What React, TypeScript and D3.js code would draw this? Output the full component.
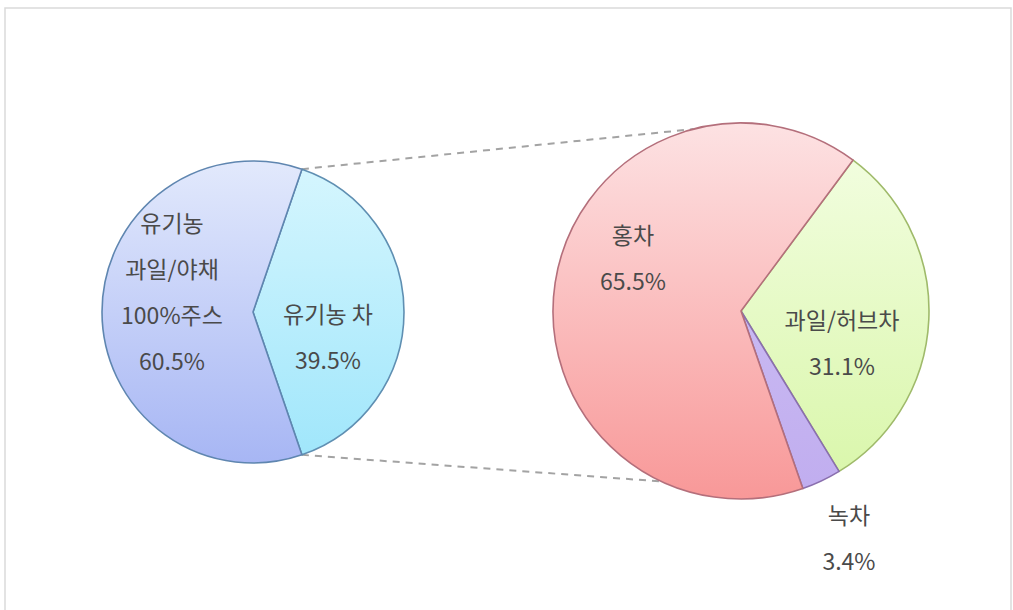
import * as d3 from "d3";

type Slice = { name: string[]; value: number; top: string; bottom: string; stroke: string };

// first pie: organic juice vs organic tea
const mainNames = [["유기농 차"], ["유기농", "과일/야채", "100%주스"]];
const mainValues = [39.5, 60.5];
// second pie: breakdown of organic tea
const teaNames = [["과일/허브차"], ["녹차"], ["홍차"]];
const teaValues = [31.1, 3.4, 65.5];

const W = 1013;
const H = 610;
const FONT = "'Noto Sans CJK KR', 'Noto Sans', sans-serif";
const TEXT = "#4a4a4a";

const mainSlices: Slice[] = [
  { name: mainNames[0], value: mainValues[0], top: "#d6f6fe", bottom: "#9fe6fb", stroke: "#5f8fb2" },
  { name: mainNames[1], value: mainValues[1], top: "#e2e9fc", bottom: "#a7b6f4", stroke: "#5f86b0" },
];
const teaSlices: Slice[] = [
  { name: teaNames[0], value: teaValues[0], top: "#f4fee4", bottom: "#d8f6a8", stroke: "#9fba6a" },
  { name: teaNames[1], value: teaValues[1], top: "#d2c4f5", bottom: "#c0adef", stroke: "#8a6fae" },
  { name: teaNames[2], value: teaValues[2], top: "#fde2e3", bottom: "#f89898", stroke: "#b46f7b" },
];

const deg = (d: number) => (d * Math.PI) / 180;

const left = { cx: 253, cy: 312, r: 151 };
const right = { cx: 741, cy: 311, r: 188 };

// label anchors relative to each pie centre
const mainLabelPos = [
  { dx: 75, dy: 24 },
  { dx: -81, dy: -21 },
];
const teaLabelPos = [
  { dx: 101, dy: 31 },
  { dx: 108, dy: 226 },
  { dx: -108, dy: -54 },
];
const LINE = 46;

function Pie({
  slices,
  cx,
  cy,
  r,
  start,
  labelPos,
  id,
}: {
  slices: Slice[];
  cx: number;
  cy: number;
  r: number;
  start: number;
  labelPos: { dx: number; dy: number }[];
  id: string;
}) {
  const pie = d3
    .pie<Slice>()
    .sort(null)
    .value((d) => d.value)
    .startAngle(start)
    .endAngle(start + Math.PI * 2);
  const arc = d3.arc<d3.PieArcDatum<Slice>>().innerRadius(0).outerRadius(r);
  const arcs = pie(slices);
  return (
    <g transform={`translate(${cx},${cy})`}>
      <defs>
        {slices.map((s, i) => (
          <linearGradient
            key={i}
            id={`${id}-g${i}`}
            gradientUnits="userSpaceOnUse"
            x1={0}
            y1={-r}
            x2={0}
            y2={r}
          >
            <stop offset="0%" stopColor={s.top} />
            <stop offset="100%" stopColor={s.bottom} />
          </linearGradient>
        ))}
      </defs>
      {arcs.map((a, i) => (
        <path
          key={i}
          d={arc(a) ?? ""}
          fill={`url(#${id}-g${i})`}
          stroke={a.data.stroke}
          strokeWidth={1.6}
          strokeLinejoin="round"
        />
      ))}
      {arcs.map((a, i) => {
        const lines = [...a.data.name, `${a.data.value.toFixed(1)}%`];
        const p = labelPos[i];
        const y0 = p.dy - ((lines.length - 1) * LINE) / 2;
        return (
          <text
            key={`t${i}`}
            textAnchor="middle"
            fontFamily={FONT}
            fontSize={23}
            fill={TEXT}
          >
            {lines.map((l, j) => (
              <tspan key={j} x={p.dx} y={y0 + j * LINE} dominantBaseline="central">
                {l}
              </tspan>
            ))}
          </text>
        );
      })}
    </g>
  );
}

export default function App() {
  const total = d3.sum(mainValues);
  // tea slice sits centred on the right side of the first pie
  const teaSpan = (mainValues[0] / total) * Math.PI * 2;
  const mainStart = Math.PI / 2 - teaSpan / 2;
  const teaStart = deg(36.6);

  const polar = (c: { cx: number; cy: number; r: number }, a: number) => [
    c.cx + c.r * Math.sin(a),
    c.cy - c.r * Math.cos(a),
  ];
  const connectors = [
    [polar(left, mainStart), polar(right, deg(-14.6))],
    [polar(left, mainStart + teaSpan), polar(right, deg(204.9))],
  ];

  return (
    <svg
      width={W}
      height={H}
      style={{ position: "absolute", left: 0, top: 0, background: "#fff" }}
    >
      <rect x={5} y={8} width={1006} height={H} fill="#fff" stroke="#dadada" strokeWidth={1.5} />
      {connectors.map(([a, b], i) => (
        <line
          key={i}
          x1={a[0]}
          y1={a[1]}
          x2={b[0]}
          y2={b[1]}
          stroke="#a3a3a3"
          strokeWidth={2}
          strokeDasharray="7 6"
        />
      ))}
      <Pie slices={mainSlices} {...left} start={mainStart} labelPos={mainLabelPos} id="main" />
      <Pie slices={teaSlices} {...right} start={teaStart} labelPos={teaLabelPos} id="tea" />
    </svg>
  );
}
